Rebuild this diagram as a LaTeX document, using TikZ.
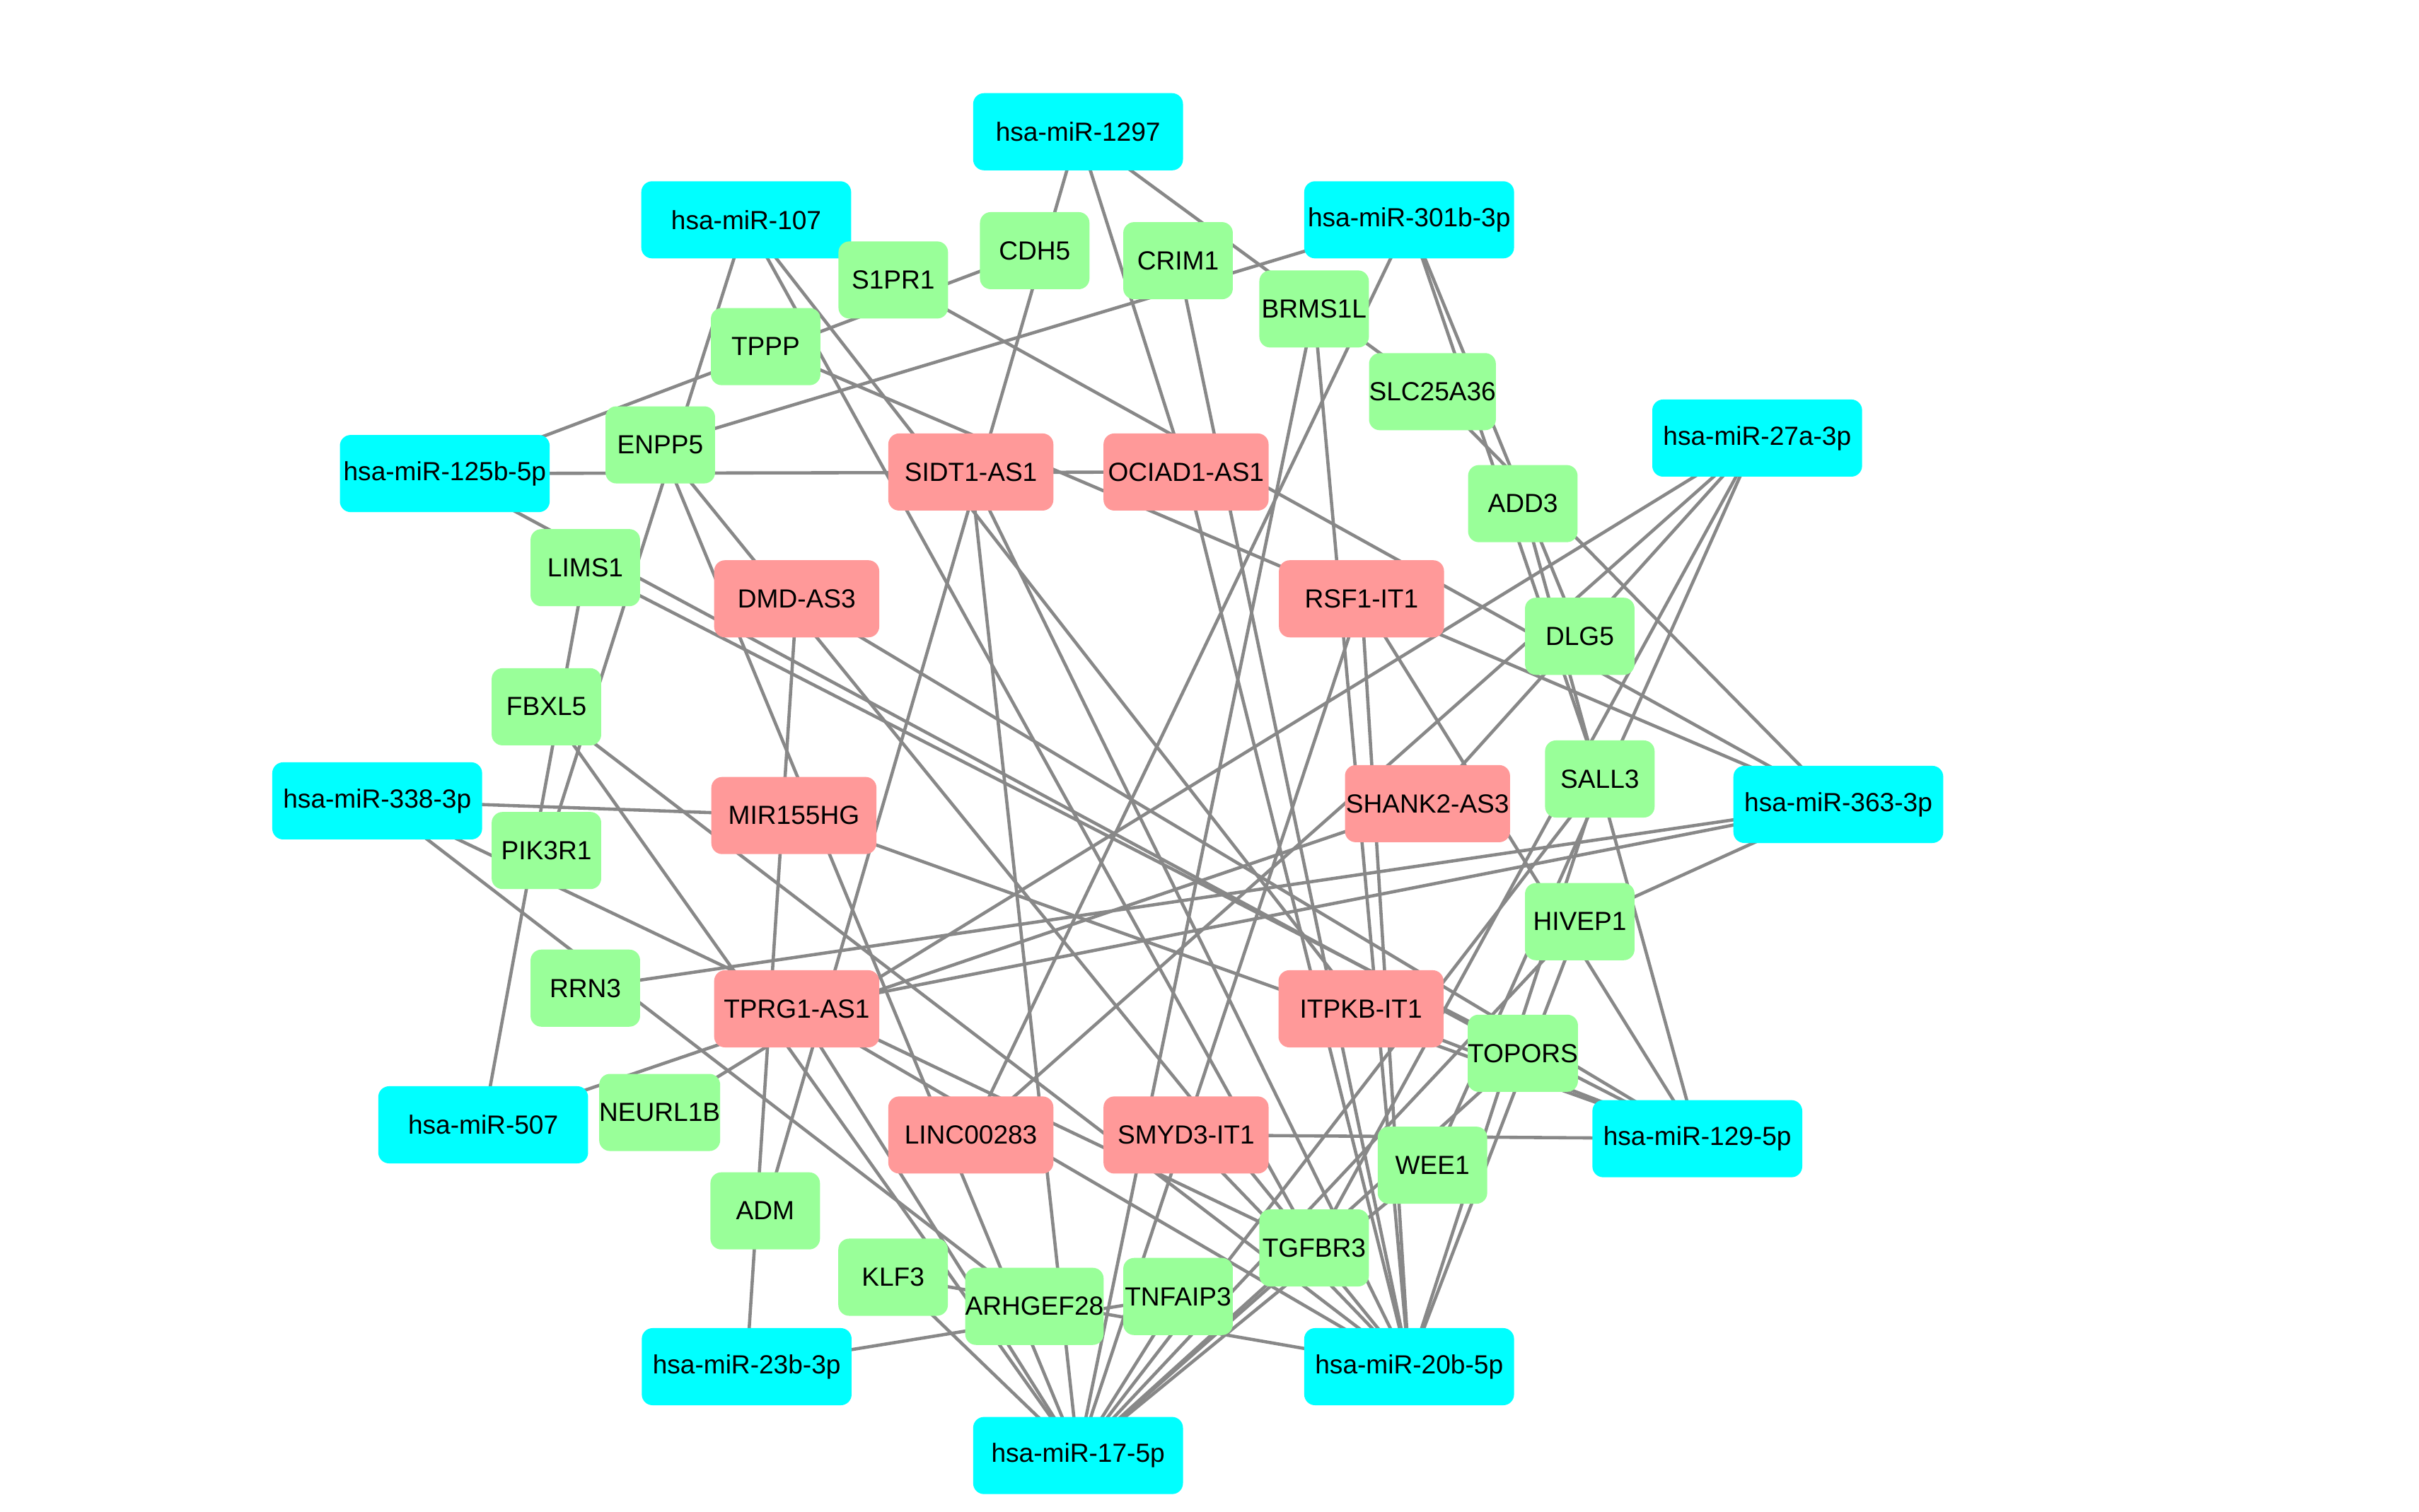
\documentclass[tikz,border=0pt]{standalone}
\usepackage{fontspec}
\setmainfont{Liberation Sans}
\definecolor{mircol}{RGB}{0,255,255}
\definecolor{lnccol}{RGB}{255,153,153}
\definecolor{genecol}{RGB}{153,255,153}
\definecolor{edgecol}{RGB}{136,136,136}
\pgfdeclarelayer{bg}
\pgfsetlayers{bg,main}
\begin{document}
\begin{tikzpicture}[x=0.5pt,y=-0.5pt,
  base/.style={rounded corners=3.5pt, inner sep=0pt, minimum height=25pt, font=\fontsize{8.5}{10}\selectfont, text=black},
  mir/.style={base, fill=mircol, minimum width=68pt},
  lnc/.style={base, fill=lnccol, minimum width=53.5pt},
  gene/.style={base, fill=genecol, minimum width=35.5pt},
  edge/.style={draw=edgecol, line width=1.05pt}]
\useasboundingbox (0,0) rectangle (1568,980);
% miRNAs
\node[mir] (m1297) at (698.8,85.4) {hsa-miR-1297};
\node[mir] (m107) at (483.7,142.5) {hsa-miR-107};
\node[mir] (m301) at (913.4,142.5) {hsa-miR-301b-3p};
\node[mir] (m125) at (288.3,307) {hsa-miR-125b-5p};
\node[mir] (m27) at (1139,284) {hsa-miR-27a-3p};
\node[mir] (m338) at (244.5,519.2) {hsa-miR-338-3p};
\node[mir] (m363) at (1191.6,521.5) {hsa-miR-363-3p};
\node[mir] (m507) at (313.2,729.2) {hsa-miR-507};
\node[mir] (m129) at (1100.2,738.2) {hsa-miR-129-5p};
\node[mir] (m23) at (484,886) {hsa-miR-23b-3p};
\node[mir] (m20) at (913.4,886) {hsa-miR-20b-5p};
\node[mir] (m17) at (698.8,943.6) {hsa-miR-17-5p};
% lncRNAs
\node[lnc] (sidt) at (629.3,306) {SIDT1-AS1};
\node[lnc] (ociad) at (768.8,306) {OCIAD1-AS1};
\node[lnc] (dmd) at (516.4,388.2) {DMD-AS3};
\node[lnc] (rsf) at (882.5,388.2) {RSF1-IT1};
\node[lnc] (mir155) at (514.6,528.7) {MIR155HG};
\node[lnc] (shank) at (925.3,521) {SHANK2-AS3};
\node[lnc] (tprg) at (516.4,654) {TPRG1-AS1};
\node[lnc] (itpkb) at (882.2,654) {ITPKB-IT1};
\node[lnc] (linc) at (629.3,735.8) {LINC00283};
\node[lnc] (smyd) at (768.8,735.8) {SMYD3-IT1};
% mRNAs
\node[gene] (cdh5) at (670.7,162.5) {CDH5};
\node[gene] (s1pr1) at (579,181.5) {S1PR1};
\node[gene] (crim1) at (763.6,169) {CRIM1};
\node[gene] (brms1l) at (851.8,200.3) {BRMS1L};
\node[gene] (tppp) at (496.3,224.7) {TPPP};
\node[gene] (slc) at (928.5,253.9) {SLC25A36};
\node[gene] (enpp5) at (428,288.4) {ENPP5};
\node[gene] (add3) at (987.1,326.5) {ADD3};
\node[gene] (lims1) at (379.4,368) {LIMS1};
\node[gene] (dlg5) at (1024,412.5) {DLG5};
\node[gene] (fbxl5) at (354.2,458.2) {FBXL5};
\node[gene] (sall3) at (1037,505) {SALL3};
\node[gene] (pik3r1) at (354.2,551.4) {PIK3R1};
\node[gene] (hivep1) at (1024,597.5) {HIVEP1};
\node[gene] (rrn3) at (379.4,640.6) {RRN3};
\node[gene] (topors) at (987.1,682.8) {TOPORS};
\node[gene] (neurl1b) at (427.6,721.2) {NEURL1B};
\node[gene] (wee1) at (928.5,755.4) {WEE1};
\node[gene] (adm) at (496,785) {ADM};
\node[gene] (tgfbr3) at (851.8,809) {TGFBR3};
\node[gene] (klf3) at (578.9,828) {KLF3};
\node[gene] (arhgef28) at (670.5,846.9) {ARHGEF28};
\node[gene] (tnfaip3) at (763.6,840.5) {TNFAIP3};
\begin{pgfonlayer}{bg}
\foreach \a/\b in {m1297/adm, m1297/ociad, m1297/slc,
  m107/pik3r1, m107/tgfbr3, m107/itpkb,
  m125/cdh5, m125/ociad, m125/topors,
  m301/enpp5, m301/linc, m301/dlg5, m301/sall3,
  m27/neurl1b, m27/linc, m27/shank, m27/tgfbr3, m27/wee1,
  m338/mir155, m338/tgfbr3, m338/arhgef28,
  m363/tppp, m363/s1pr1, m363/slc, m363/rrn3, m363/tprg, m363/hivep1,
  m507/lims1, m507/shank,
  m129/smyd, m129/add3, m129/rsf, m129/lims1, m129/itpkb, m129/mir155, m129/dmd,
  m23/dmd, m23/tnfaip3,
  m20/klf3, m20/tprg, m20/fbxl5, m20/enpp5, m20/smyd, m20/sidt, m20/ociad, m20/crim1, m20/brms1l, m20/rsf, m20/sall3, m20/hivep1,
  m17/klf3, m17/fbxl5, m17/tprg, m17/enpp5, m17/sidt, m17/brms1l, m17/rsf, m17/tnfaip3, m17/sall3, m17/hivep1, m17/topors, m17/tgfbr3, m17/wee1}
  \draw[edge] (\a.center) -- (\b.center);
\end{pgfonlayer}
\end{tikzpicture}
\end{document}
